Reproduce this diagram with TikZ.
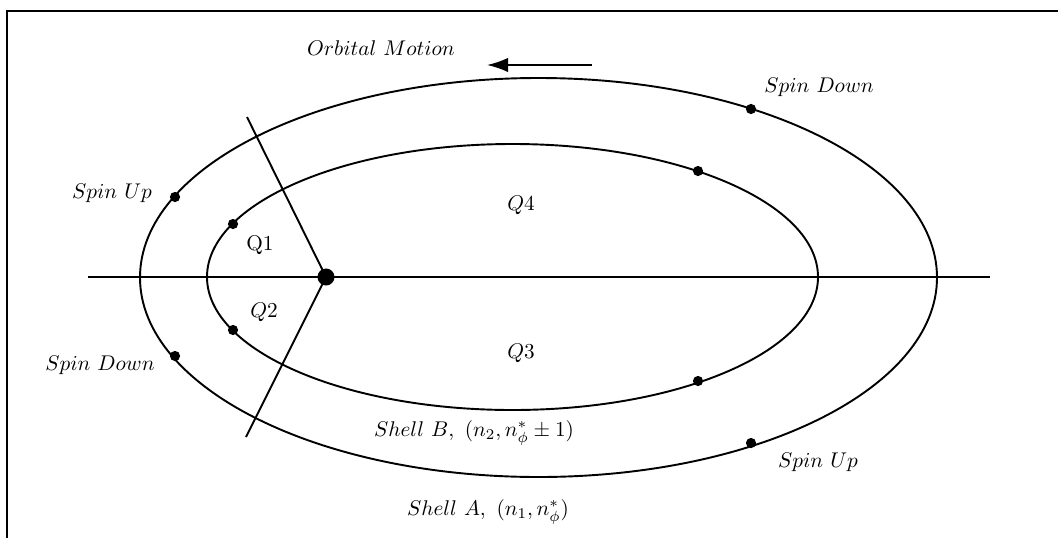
\documentclass[tikz,border=0pt]{standalone}
\usepackage{amsmath,amssymb}
\usepackage{tikz}
\usetikzlibrary{arrows.meta}
\tikzstyle{orbit} = [line width=0.9pt, draw=black]
\tikzstyle{spot} = [circle, fill=black, inner sep=0pt, minimum size=4.8pt]
\tikzstyle{nucleus} = [circle, fill=black, inner sep=0pt, minimum size=8pt]
\tikzstyle{lbl} = [font=\normalsize, inner sep=0pt]
\tikzstyle{arrow} = [line width=0.9pt, -{Latex[length=3.5mm, width=2.4mm]}]

\begin{document}
\begin{tikzpicture}[x=0.47pt, y=0.47pt]
\useasboundingbox (0,0) rectangle (1058,538);

% frame
\draw[line width=0.6pt] (7,0) -- (7,527) -- (1058,527);

% axis and shells
\draw[orbit] (88,261) -- (990,261);
\draw[orbit] (538.5,260.5) ellipse [x radius=398.5, y radius=199.5];
\draw[orbit] (512.5,261) ellipse [x radius=305.5, y radius=133];

% sector lines
\node (focus) [nucleus] at (326,261) {};
\coordinate (top) at (247,421);
\coordinate (bottom) at (246,101);
\draw[orbit] (focus.center) -- (top);
\draw[orbit] (focus.center) -- (bottom);

% spin points
\node (upA) [spot] at (175,341) {};
\node (downA) [spot] at (175,182) {};
\node (downA2) [spot] at (751,429) {};
\node (upA2) [spot] at (751,95) {};
\node (q1pt) [spot] at (233,314) {};
\node (q2pt) [spot] at (233,208) {};
\node (q4pt) [spot] at (698,367) {};
\node (q3pt) [spot] at (698,157) {};

% orbital motion
\node (motion) [lbl] at (381,490) {$Orbital\ Motion$};
\coordinate (arrstart) at (592,473);
\coordinate (arrend) at (487,473);
\draw[arrow] (arrstart) -- (arrend);

% labels
\node (sdtop) [lbl] at (819,451) {$Spin\ Down$};
\node (suleft) [lbl] at (112,345) {$Spin\ Up$};
\node (sdleft) [lbl] at (100,173) {$Spin\ Down$};
\node (subot) [lbl] at (818,76) {$Spin\ Up$};
\node (quad4) [lbl] at (521,333) {$Q4$};
\node (quad1) [lbl] at (260,293) {Q1};
\node (quad2) [lbl] at (264,226) {$Q2$};
\node (quad3) [lbl] at (521,185) {$Q3$};
\node (shellB) [lbl] at (474,105) {$Shell\ B,\ (n_2, n^*_\phi \pm 1)$};
\node (shellA) [lbl] at (488,26) {$Shell\ A,\ (n_1, n^*_\phi)$};

\end{tikzpicture}
\end{document}
